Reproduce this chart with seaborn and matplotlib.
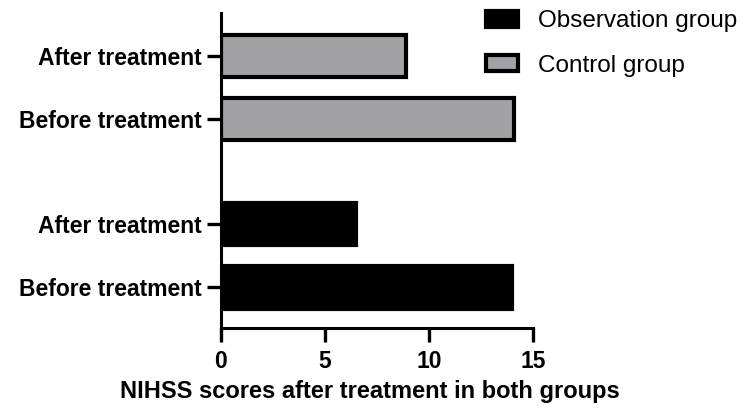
import numpy as np
import pandas as pd
import matplotlib.pyplot as plt
import seaborn as sns
from matplotlib.patches import Patch

# data
groups = ['Observation group', 'Observation group', 'Control group', 'Control group']
stages = ['Before treatment', 'After treatment', 'Before treatment', 'After treatment']
scores = [14.0, 6.5, 14.1, 8.9]
group_order = ['Observation group', 'Control group']
colors = {'Observation group': '#000000', 'Control group': '#a2a2a6'}

# bar positions: one slot per bar plus an extra gap between the two groups
group_gap = 0.67
pos = [i + group_order.index(g) * group_gap for i, g in enumerate(groups)]

df = pd.DataFrame({'group': groups, 'stage': stages, 'score': scores, 'pos': pos})

sns.set_style('ticks')
plt.rcParams['font.family'] = ['Liberation Sans', 'DejaVu Sans']
plt.rcParams['text.color'] = 'black'
plt.rcParams['xtick.color'] = 'black'
plt.rcParams['ytick.color'] = 'black'
plt.rcParams['axes.labelcolor'] = 'black'

fig = plt.figure(figsize=(7.51, 4.12), dpi=100)
ax = fig.add_axes([0.294, 0.205, 0.416, 0.764])

sns.barplot(data=df, x='score', y='pos', hue='group', hue_order=group_order,
            palette=colors, orient='h', native_scale=True, dodge=False,
            width=0.67, edgecolor='black', linewidth=3, ax=ax, legend=False)

ax.set_xlim(0, 15)
ax.set_xticks([0, 5, 10, 15])
ax.set_ylim(-0.635, 4.35)
ax.set_yticks(df['pos'])
ax.set_yticklabels(df['stage'])
for lab in ax.get_xticklabels() + ax.get_yticklabels():
    lab.set_fontweight('bold')
    lab.set_fontsize(16.5)
ax.tick_params(axis='both', width=2.4, length=10, color='black')
ax.tick_params(axis='x', pad=6)
ax.tick_params(axis='y', pad=4)
for s in ['left', 'bottom']:
    ax.spines[s].set_linewidth(2.2)
    ax.spines[s].set_color('black')
sns.despine(ax=ax)

ax.set_ylabel('')
ax.set_xlabel('NIHSS scores after treatment in both groups',
              fontsize=17, fontweight='bold')
ax.xaxis.set_label_coords(0.476, -0.168)

handles = [Patch(facecolor=colors[g], edgecolor='black', linewidth=3) for g in group_order]
fig.legend(handles, group_order, loc='upper left', bbox_to_anchor=(0.618, 1.028),
           frameon=False, fontsize=17.5, handlelength=1.3, handleheight=0.64,
           labelspacing=0.92, handletextpad=0.85)

fig.savefig('out.png', dpi=100)
